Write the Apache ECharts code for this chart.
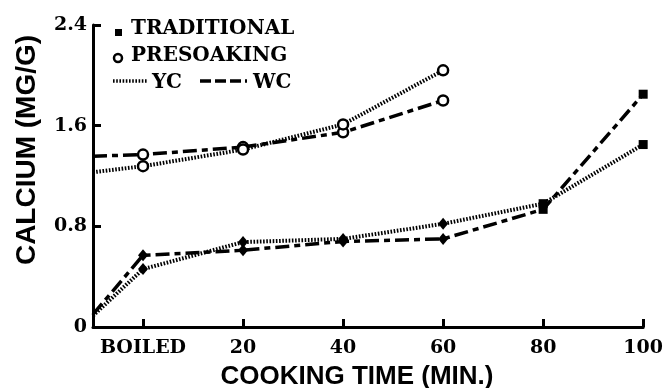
<!DOCTYPE html>
<html>
<head>
<meta charset="utf-8">
<script src="https://cdn.jsdelivr.net/npm/echarts@6/dist/echarts.min.js"></script>
<style>html,body{margin:0;padding:0;background:#fff;}#c{width:666px;height:388px;}</style>
</head>
<body>
<div id="c"></div>
<script>
// Cooking time (min); -10 = raw (start at axis), 0 = BOILED
const tradTimes = [-10, 0, 20, 40, 60, 80, 100];
const tradWC = [0.10, 0.57, 0.61, 0.68, 0.70, 0.935, 1.85];
const tradYC = [0.09, 0.46, 0.675, 0.70, 0.82, 0.98, 1.45];
const presoakTimes = [-10, 0, 20, 40, 60];
const presoakWC = [1.357, 1.37, 1.43, 1.547, 1.80];
const presoakYC = [1.23, 1.278, 1.41, 1.61, 2.04];
const xTickValues = [0, 20, 40, 60, 80, 100];
const xTickLabels = ['BOILED', '20', '40', '60', '80', '100'];
const yTickLabels = ['0', '0.8', '1.6', '2.4'];

const serif = 'DejaVu Serif';
const dotted = [1.6, 1.6];
const dashed = [14, 5, 6, 5];

function pts(xs, ys, kind) {
  return xs.map((x, i) => {
    const item = { value: [x, ys[i]] };
    if (x < 0) item.symbol = 'none';
    else if (kind === 'trad') {
      if (x <= 60) { item.symbol = 'diamond'; item.symbolSize = [10, 12]; }
      else { item.symbol = 'rect'; item.symbolSize = 9; }
    }
    return item;
  });
}

function tradSeries(name, ys, dash) {
  return {
    name, type: 'line', data: pts(tradTimes, ys, 'trad'),
    symbol: 'rect', symbolSize: 9, showAllSymbol: true,
    lineStyle: { color: '#000', width: dash === dotted ? 4 : 3.5, type: dash },
    itemStyle: { color: '#000', borderWidth: 0 },
    z: 3
  };
}
function preSeries(name, ys, dash) {
  return {
    name, type: 'line', data: pts(presoakTimes, ys, 'pre'),
    symbol: 'circle', symbolSize: 10, showAllSymbol: true,
    lineStyle: { color: '#000', width: dash === dotted ? 4 : 3.5, type: dash },
    itemStyle: { color: '#fff', borderColor: '#000', borderWidth: 2.5 },
    z: 3
  };
}

const chart = echarts.init(document.getElementById('c'), null, { renderer: 'canvas' });
chart.setOption({
  animation: false,
  backgroundColor: '#fff',
  grid: { left: 93, right: 17, top: 25, bottom: 61, containLabel: false },
  xAxis: {
    type: 'value', min: -10, max: 100,
    axisLine: { show: true, onZero: false, lineStyle: { color: '#000', width: 3 } },
    axisTick: { show: true, inside: true, length: 8, lineStyle: { color: '#000', width: 3 }, customValues: xTickValues },
    axisLabel: {
      customValues: xTickValues, margin: 12,
      formatter: v => xTickLabels[xTickValues.indexOf(v)],
      color: '#000', fontFamily: serif, fontWeight: 'bold', fontSize: 19
    },
    splitLine: { show: false }
  },
  yAxis: {
    type: 'value', min: 0, max: 2.4, interval: 0.8,
    axisLine: { show: true, onZero: false, lineStyle: { color: '#000', width: 3 } },
    axisTick: { show: true, inside: true, length: 8, lineStyle: { color: '#000', width: 3 } },
    axisLabel: {
      margin: 6,
      formatter: (v) => yTickLabels[Math.round(v / 0.8)],
      color: '#000', fontFamily: serif, fontWeight: 'bold', fontSize: 19
    },
    splitLine: { show: false }
  },
  series: [
    tradSeries('Traditional WC', tradWC, dashed),
    tradSeries('Traditional YC', tradYC, dotted),
    preSeries('Presoaking WC', presoakWC, dashed),
    preSeries('Presoaking YC', presoakYC, dotted)
  ],
  graphic: [
    { type: 'text', x: 27, y: 150, rotation: Math.PI / 2,
      style: { text: 'CALCIUM (MG/G)', fill: '#000', font: 'bold 28px "Liberation Sans"', textAlign: 'center', textVerticalAlign: 'middle' } },
    { type: 'text', x: 357, y: 377,
      style: { text: 'COOKING TIME (MIN.)', fill: '#000', font: 'bold 26px "Liberation Sans"', textAlign: 'center', textVerticalAlign: 'middle' } },
    // legend
    { type: 'rect', shape: { x: 115, y: 29, width: 7, height: 7 }, style: { fill: '#000' } },
    { type: 'text', x: 131, y: 29, style: { text: 'TRADITIONAL', fill: '#000', font: 'bold 20px "DejaVu Serif"', textVerticalAlign: 'middle' } },
    { type: 'circle', shape: { cx: 118, cy: 58, r: 4 }, style: { fill: '#fff', stroke: '#000', lineWidth: 2.5 } },
    { type: 'text', x: 131, y: 56, style: { text: 'PRESOAKING', fill: '#000', font: 'bold 20px "DejaVu Serif"', textVerticalAlign: 'middle' } },
    { type: 'line', shape: { x1: 113, y1: 81, x2: 148, y2: 81 }, style: { stroke: '#000', lineWidth: 3.5, lineDash: dotted } },
    { type: 'text', x: 152, y: 83, style: { text: 'YC', fill: '#000', font: 'bold 20px "DejaVu Serif"', textVerticalAlign: 'middle' } },
    { type: 'line', shape: { x1: 200, y1: 81, x2: 247, y2: 81 }, style: { stroke: '#000', lineWidth: 3.5, lineDash: [11, 4] } },
    { type: 'text', x: 253, y: 83, style: { text: 'WC', fill: '#000', font: 'bold 20px "DejaVu Serif"', textVerticalAlign: 'middle' } }
  ]
});
</script>
</body>
</html>
